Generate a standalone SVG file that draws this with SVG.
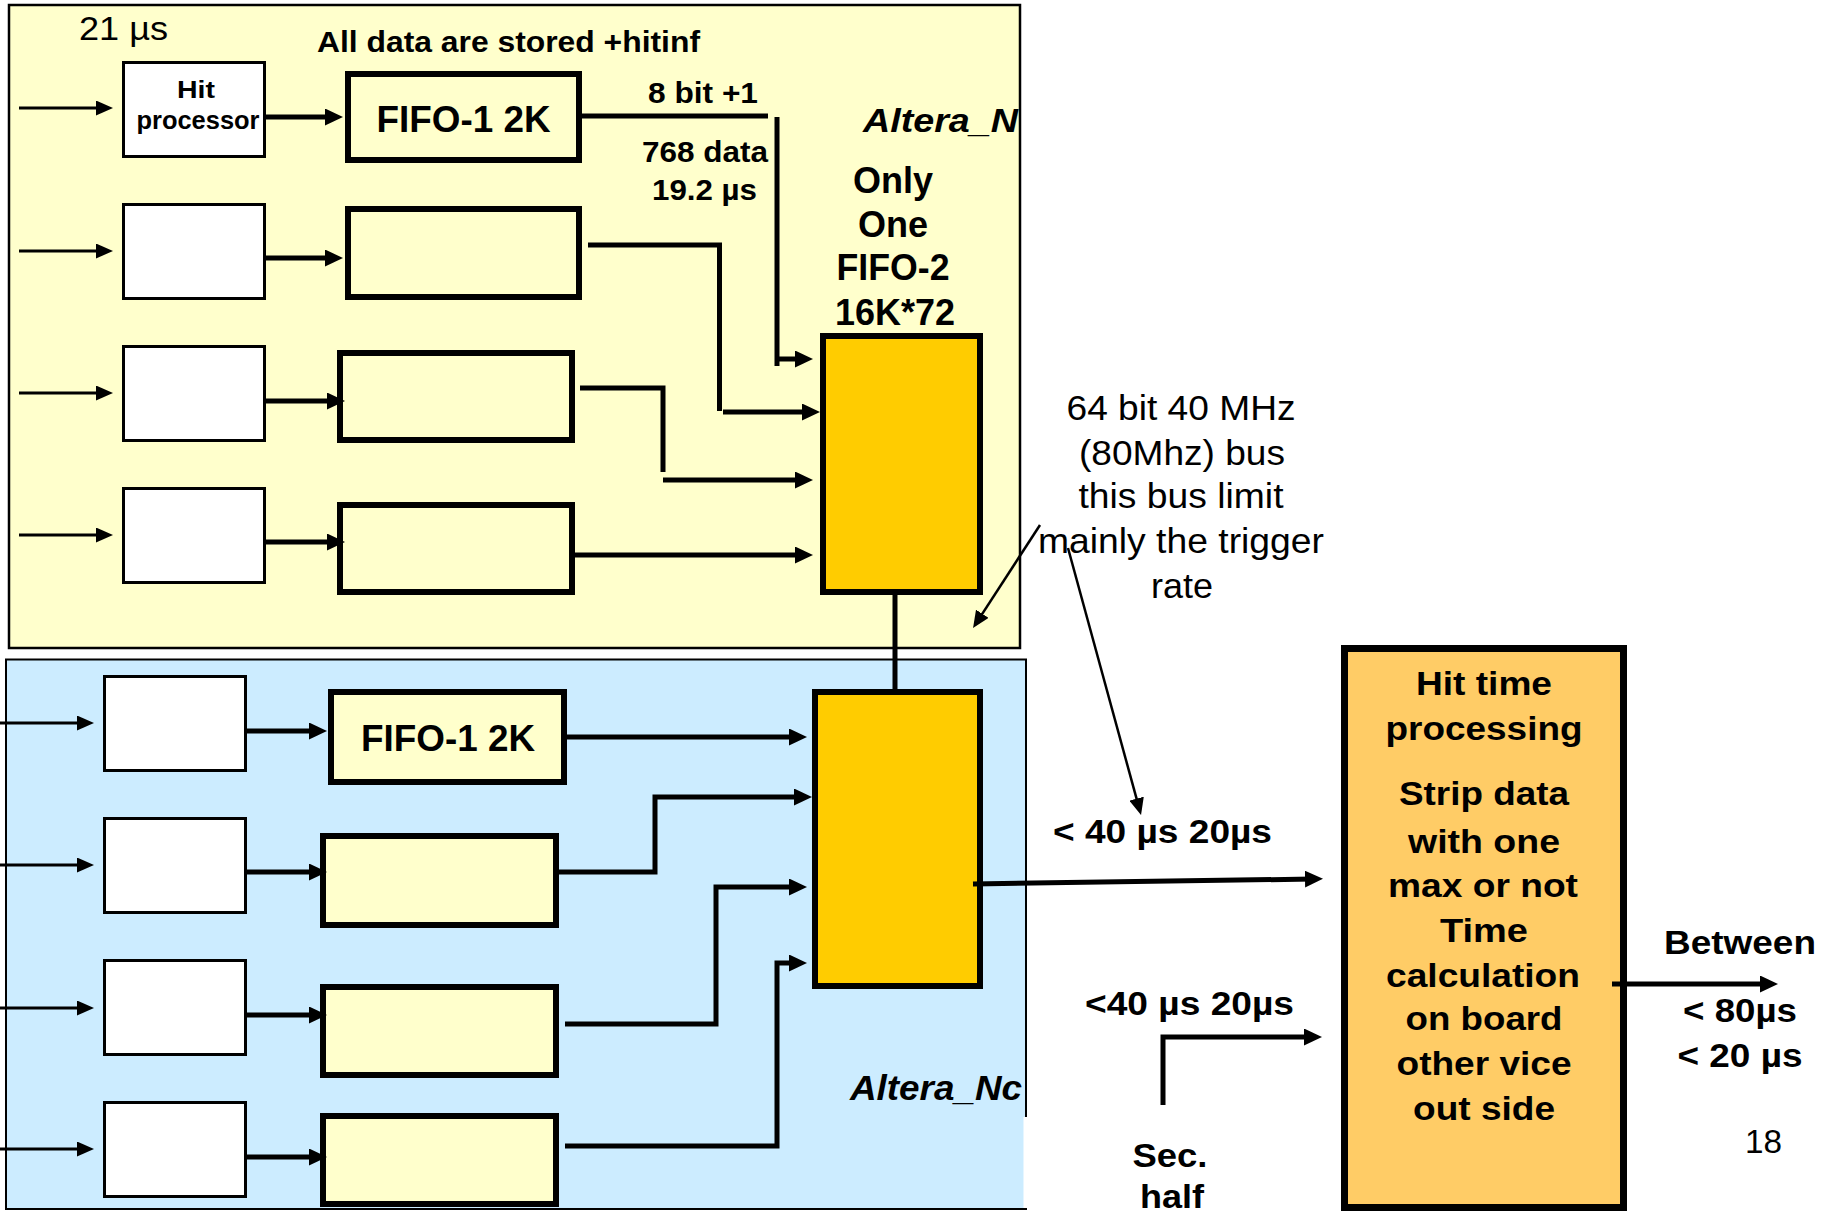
<svg xmlns="http://www.w3.org/2000/svg" width="1832" height="1212" viewBox="0 0 1832 1212">
<style>
text{font-family:"Liberation Sans",Arial,sans-serif;fill:#000}
.b{font-weight:bold}
.bi{font-weight:bold;font-style:italic}
.m{text-anchor:middle}
.hit{fill:#fff;stroke:#000;stroke-width:3}
.fifo{fill:#FFFFCC;stroke:#000;stroke-width:6}
.f2{fill:#FFCC00;stroke:#000;stroke-width:6}
.thin{fill:none;stroke:#000;stroke-width:3}
.thick{fill:none;stroke:#000;stroke-width:5}
.diag{fill:none;stroke:#000;stroke-width:2.5}
</style>
<defs>
<marker id="ah" markerUnits="userSpaceOnUse" markerWidth="18" markerHeight="17" refX="8" refY="8.5" orient="auto" viewBox="0 0 18 17"><path d="M0,0 L18,8.5 L0,17 z" fill="#000"/></marker>
<marker id="aht" markerUnits="userSpaceOnUse" markerWidth="17" markerHeight="15" refX="7" refY="7.5" orient="auto" viewBox="0 0 17 15"><path d="M0,0 L17,7.5 L0,15 z" fill="#000"/></marker>
</defs>

<g id="panel-top">
<rect x="9" y="5" width="1011" height="643" fill="#FFFFCC" stroke="#000" stroke-width="2.5"/>
<text x="79" y="40" font-size="33" textLength="89" lengthAdjust="spacingAndGlyphs">21 µs</text>
<text class="b" x="317" y="52" font-size="30" textLength="383" lengthAdjust="spacingAndGlyphs">All data are stored +hitinf</text>
<text class="b" x="648" y="103" font-size="29" textLength="110" lengthAdjust="spacingAndGlyphs">8 bit +1</text>
<text class="b" x="642" y="162" font-size="30" textLength="126" lengthAdjust="spacingAndGlyphs">768 data</text>
<text class="b" x="652" y="200" font-size="30" textLength="105" lengthAdjust="spacingAndGlyphs">19.2 µs</text>
<text class="bi" x="863" y="132" font-size="34" textLength="155" lengthAdjust="spacingAndGlyphs">Altera_N</text>
</g>

<g id="panel-bottom">
<rect x="6" y="659.5" width="1020" height="549.5" fill="#CCECFF" stroke="#000" stroke-width="2"/>
<rect x="1023.5" y="1117" width="8" height="91" fill="#fff"/>
<text class="bi" x="850" y="1100" font-size="35" textLength="172" lengthAdjust="spacingAndGlyphs">Altera_Nc</text>
</g>

<g id="top-hit-1"><rect class="hit" x="123.5" y="62.5" width="141" height="94"/>
<text class="b m" x="196" y="98" font-size="24" textLength="38" lengthAdjust="spacingAndGlyphs">Hit</text>
<text class="b m" x="198" y="129" font-size="25" textLength="123" lengthAdjust="spacingAndGlyphs">processor</text></g>
<g id="top-hit-2"><rect class="hit" x="123.5" y="204.5" width="141" height="94"/></g>
<g id="top-hit-3"><rect class="hit" x="123.5" y="346.5" width="141" height="94"/></g>
<g id="top-hit-4"><rect class="hit" x="123.5" y="488.5" width="141" height="94"/></g>

<g id="top-fifo-1"><rect class="fifo" x="348" y="74" width="231" height="86"/>
<text class="b m" x="463.5" y="132" font-size="36" textLength="174" lengthAdjust="spacingAndGlyphs">FIFO-1 2K</text></g>
<g id="top-fifo-2"><rect class="fifo" x="348" y="209" width="231" height="88"/></g>
<g id="top-fifo-3"><rect class="fifo" x="340" y="353" width="232" height="87"/></g>
<g id="top-fifo-4"><rect class="fifo" x="340" y="505" width="232" height="87"/></g>

<g id="top-fifo2"><rect class="f2" x="823" y="336" width="157" height="256"/>
<text class="b m" x="893" y="193" font-size="36" textLength="80" lengthAdjust="spacingAndGlyphs">Only</text>
<text class="b m" x="893" y="237" font-size="36" textLength="70" lengthAdjust="spacingAndGlyphs">One</text>
<text class="b m" x="893" y="280" font-size="36" textLength="113" lengthAdjust="spacingAndGlyphs">FIFO-2</text>
<text class="b m" x="895" y="325" font-size="36" textLength="120" lengthAdjust="spacingAndGlyphs">16K*72</text></g>

<g id="bot-hit-1"><rect class="hit" x="104.5" y="676.5" width="141" height="94"/></g>
<g id="bot-hit-2"><rect class="hit" x="104.5" y="818.5" width="141" height="94"/></g>
<g id="bot-hit-3"><rect class="hit" x="104.5" y="960.5" width="141" height="94"/></g>
<g id="bot-hit-4"><rect class="hit" x="104.5" y="1102.5" width="141" height="94"/></g>

<g id="bot-fifo-1"><rect class="fifo" x="331" y="692" width="233" height="90"/>
<text class="b m" x="448" y="751" font-size="36" textLength="174" lengthAdjust="spacingAndGlyphs">FIFO-1 2K</text></g>
<g id="bot-fifo-2"><rect class="fifo" x="323" y="836" width="233" height="89"/></g>
<g id="bot-fifo-3"><rect class="fifo" x="323" y="987" width="233" height="88"/></g>
<g id="bot-fifo-4"><rect class="fifo" x="323" y="1116" width="233" height="88"/></g>

<g id="bot-fifo2"><rect class="f2" x="815" y="692" width="165" height="294"/></g>

<g id="hit-time"><rect x="1344.5" y="648.5" width="279" height="559" fill="#FFCC66" stroke="#000" stroke-width="7"/>
<text class="b m" x="1484" y="695" font-size="34" textLength="136" lengthAdjust="spacingAndGlyphs">Hit time</text>
<text class="b m" x="1484" y="740" font-size="34" textLength="197" lengthAdjust="spacingAndGlyphs">processing</text>
<text class="b m" x="1484" y="805" font-size="34" textLength="170" lengthAdjust="spacingAndGlyphs">Strip data</text>
<text class="b m" x="1484" y="853" font-size="34" textLength="152" lengthAdjust="spacingAndGlyphs">with one</text>
<text class="b m" x="1483" y="897" font-size="34" textLength="190" lengthAdjust="spacingAndGlyphs">max or not</text>
<text class="b m" x="1484" y="942" font-size="34" textLength="88" lengthAdjust="spacingAndGlyphs">Time</text>
<text class="b m" x="1483" y="987" font-size="34" textLength="194" lengthAdjust="spacingAndGlyphs">calculation</text>
<text class="b m" x="1484" y="1030" font-size="34" textLength="157" lengthAdjust="spacingAndGlyphs">on board</text>
<text class="b m" x="1484" y="1075" font-size="34" textLength="175" lengthAdjust="spacingAndGlyphs">other vice</text>
<text class="b m" x="1484" y="1120" font-size="34" textLength="142" lengthAdjust="spacingAndGlyphs">out side</text></g>

<g id="labels">
<text class="m" x="1181" y="420" font-size="35" textLength="229" lengthAdjust="spacingAndGlyphs">64 bit 40 MHz</text>
<text class="m" x="1182" y="465" font-size="35" textLength="206" lengthAdjust="spacingAndGlyphs">(80Mhz) bus</text>
<text class="m" x="1181" y="508" font-size="35" textLength="205" lengthAdjust="spacingAndGlyphs">this bus limit</text>
<text class="m" x="1181" y="553" font-size="35" textLength="286" lengthAdjust="spacingAndGlyphs">mainly the trigger</text>
<text class="m" x="1182" y="598" font-size="35" textLength="62" lengthAdjust="spacingAndGlyphs">rate</text>
<text class="b" x="1053" y="843" font-size="33" textLength="219" lengthAdjust="spacingAndGlyphs">&lt; 40 µs 20µs</text>
<text class="b" x="1085" y="1015" font-size="33" textLength="209" lengthAdjust="spacingAndGlyphs">&lt;40 µs 20µs</text>
<text class="b m" x="1170" y="1167" font-size="34" textLength="75" lengthAdjust="spacingAndGlyphs">Sec.</text>
<text class="b m" x="1172" y="1208" font-size="34" textLength="64" lengthAdjust="spacingAndGlyphs">half</text>
<text class="b m" x="1740" y="954" font-size="34" textLength="152" lengthAdjust="spacingAndGlyphs">Between</text>
<text class="b m" x="1740" y="1022" font-size="34" textLength="114" lengthAdjust="spacingAndGlyphs">&lt; 80µs</text>
<text class="b m" x="1740" y="1067" font-size="34" textLength="125" lengthAdjust="spacingAndGlyphs">&lt; 20 µs</text>
<text x="1745" y="1153" font-size="33" textLength="37" lengthAdjust="spacingAndGlyphs">18</text>
</g>

<g id="connectors">
<line class="thin" x1="19" y1="108" x2="103" y2="108" marker-end="url(#aht)"/>
<line class="thin" x1="19" y1="251" x2="103" y2="251" marker-end="url(#aht)"/>
<line class="thin" x1="19" y1="393" x2="103" y2="393" marker-end="url(#aht)"/>
<line class="thin" x1="19" y1="535" x2="103" y2="535" marker-end="url(#aht)"/>
<line class="thick" x1="266" y1="117" x2="333" y2="117" marker-end="url(#ah)"/>
<line class="thick" x1="266" y1="258" x2="333" y2="258" marker-end="url(#ah)"/>
<line class="thick" x1="266" y1="401" x2="335" y2="401" marker-end="url(#ah)"/>
<line class="thick" x1="266" y1="542" x2="335" y2="542" marker-end="url(#ah)"/>

<line class="thick" x1="582" y1="116" x2="768" y2="116"/>
<line class="thick" x1="777" y1="117" x2="777" y2="366"/>
<line class="thick" x1="775" y1="359" x2="803" y2="359" marker-end="url(#ah)"/>
<polyline class="thick" points="588,245 719.5,245 719.5,411"/>
<line class="thick" x1="723" y1="412" x2="810" y2="412" marker-end="url(#ah)"/>
<polyline class="thick" points="580,388 663,388 663,472"/>
<line class="thick" x1="663" y1="480" x2="803" y2="480" marker-end="url(#ah)"/>
<line class="thick" x1="575" y1="555" x2="803" y2="555" marker-end="url(#ah)"/>

<line class="thick" x1="895" y1="595" x2="895" y2="689"/>

<line class="thin" x1="0" y1="723" x2="84" y2="723" marker-end="url(#aht)"/>
<line class="thin" x1="0" y1="865" x2="84" y2="865" marker-end="url(#aht)"/>
<line class="thin" x1="0" y1="1008" x2="84" y2="1008" marker-end="url(#aht)"/>
<line class="thin" x1="0" y1="1149" x2="84" y2="1149" marker-end="url(#aht)"/>
<line class="thick" x1="247" y1="731" x2="317" y2="731" marker-end="url(#ah)"/>
<line class="thick" x1="247" y1="872" x2="317" y2="872" marker-end="url(#ah)"/>
<line class="thick" x1="247" y1="1015" x2="317" y2="1015" marker-end="url(#ah)"/>
<line class="thick" x1="247" y1="1157" x2="317" y2="1157" marker-end="url(#ah)"/>

<line class="thick" x1="567" y1="737" x2="797" y2="737" marker-end="url(#ah)"/>
<polyline class="thick" points="559,872 655,872 655,797 802,797" marker-end="url(#ah)"/>
<polyline class="thick" points="565,1024 716,1024 716,887 797,887" marker-end="url(#ah)"/>
<polyline class="thick" points="565,1146 777,1146 777,963 797,963" marker-end="url(#ah)"/>

<line class="thick" x1="973" y1="884" x2="1313" y2="879" marker-end="url(#ah)"/>
<line class="diag" x1="1040" y1="525" x2="978.5" y2="619.6" marker-end="url(#aht)"/>
<line class="diag" x1="1068" y1="548" x2="1138.4" y2="805.4" marker-end="url(#aht)"/>
<polyline class="thick" points="1163,1105 1163,1037 1312,1037" marker-end="url(#ah)"/>
<line class="thick" x1="1612" y1="984" x2="1768" y2="984" marker-end="url(#ah)"/>
</g>
</svg>
